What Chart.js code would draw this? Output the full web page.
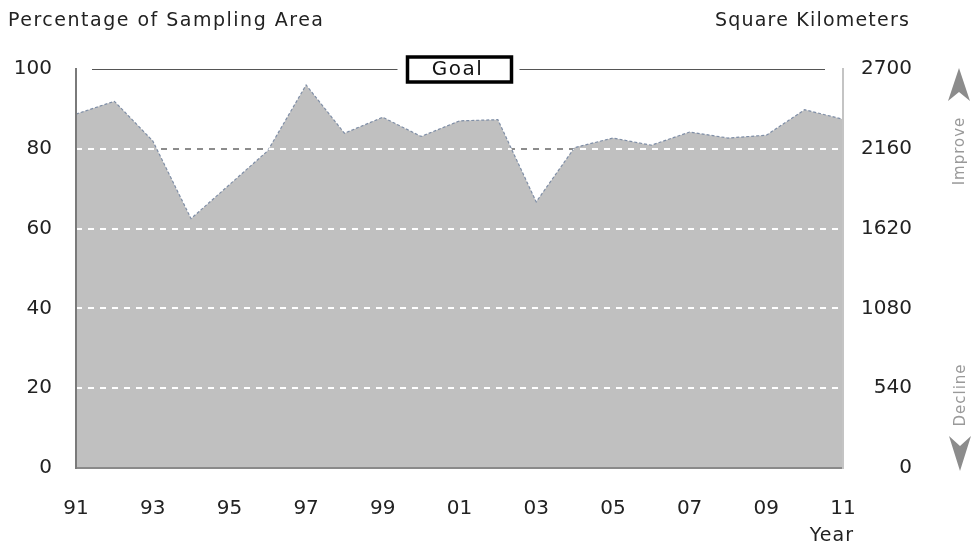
<!DOCTYPE html>
<html>
<head>
<meta charset="utf-8">
<script src="https://cdn.jsdelivr.net/npm/chart.js@4/dist/chart.umd.min.js"></script>
<style>
html,body{margin:0;padding:0;background:#fff;overflow:hidden}
#wrap{position:relative;width:971px;height:546px}
</style>
</head>
<body>
<div id="wrap"><canvas id="c" width="971" height="546"></canvas></div>
<script>
// ---- data ----
const years = [1991,1992,1993,1994,1995,1996,1997,1998,1999,2000,2001,2002,2003,2004,2005,2006,2007,2008,2009,2010,2011];
const percentValues = [88.7,91.9,82.0,62.5,71.0,79.5,96.0,83.9,87.9,83.1,87.0,87.3,66.7,80.3,82.7,80.9,84.2,82.7,83.4,89.8,87.4];
const xTickYears = [1991,1993,1995,1997,1999,2001,2003,2005,2007,2009,2011];
const xTickLabels = ['91','93','95','97','99','01','03','05','07','09','11'];
const leftTicks = [0,20,40,60,80,100];
const rightTicks = [0,540,1080,1620,2160,2700];
const gridValues = [20,40,60,80];
const goalValue = 100;
const leftTitle = 'Percentage of Sampling Area';
const rightTitle = 'Square Kilometers';
const xTitle = 'Year';
const goalLabel = 'Goal';
const improveLabel = 'Improve';
const declineLabel = 'Decline';

const FONT = 'DejaVu Sans';
const points = years.map((y, i) => ({x: y, y: percentValues[i]}));

function drawText(ctx, s, x, y, size, color, align, spacing) {
  ctx.save();
  ctx.font = size + 'px "' + FONT + '"';
  ctx.fillStyle = color;
  ctx.textAlign = align;
  ctx.textBaseline = 'middle';
  ctx.letterSpacing = (spacing || 0) + 'px';
  ctx.fillText(s, x, y);
  ctx.restore();
}

const overlay = {
  id: 'overlay',
  afterDatasetsDraw(chart) {
    const ctx = chart.ctx;
    const area = chart.chartArea;
    const ys = chart.scales.y;
    const meta = chart.getDatasetMeta(0);
    const pts = meta.data;
    // white dashed gridlines over the filled area
    ctx.save();
    ctx.beginPath();
    ctx.moveTo(pts[0].x, ys.getPixelForValue(0));
    pts.forEach(p => ctx.lineTo(p.x, p.y));
    ctx.lineTo(pts[pts.length - 1].x, ys.getPixelForValue(0));
    ctx.closePath();
    ctx.clip();
    ctx.strokeStyle = '#ffffff';
    ctx.lineWidth = 2;
    ctx.setLineDash([6, 6]);
    gridValues.forEach(v => {
      const py = Math.round(ys.getPixelForValue(v));
      ctx.beginPath();
      ctx.moveTo(area.left, py);
      ctx.lineTo(area.right, py);
      ctx.stroke();
    });
    ctx.restore();

    // goal line with boxed label
    const gy = Math.round(ys.getPixelForValue(goalValue)) + 0.5;
    ctx.save();
    ctx.strokeStyle = '#555';
    ctx.lineWidth = 1;
    ctx.beginPath();
    ctx.moveTo(area.left + 16, gy);
    ctx.lineTo(area.right - 18, gy);
    ctx.stroke();
    const cx = (area.left + area.right) / 2;
    ctx.fillStyle = '#fff';
    ctx.fillRect(cx - 62, gy - 16, 122, 32);
    ctx.strokeStyle = '#000';
    ctx.lineWidth = 3.5;
    ctx.strokeRect(cx - 52, gy - 12.5, 104, 25);
    ctx.restore();
    drawText(ctx, goalLabel, cx - 2, gy, 20, '#111', 'center', 1.5);
  },
  afterDraw(chart) {
    const ctx = chart.ctx;
    const area = chart.chartArea;
    drawText(ctx, leftTitle, 8, 21, 19, '#222', 'left', 1.5);
    drawText(ctx, rightTitle, 910, 21, 19, '#222', 'right', 1.2);
    drawText(ctx, xTitle, area.right + 11, 536, 19, '#222', 'right', 1);

    // improve arrow
    ctx.save();
    ctx.fillStyle = '#8c8c8c';
    ctx.beginPath();
    ctx.moveTo(959, 68);
    ctx.lineTo(970, 101);
    ctx.lineTo(959, 92);
    ctx.lineTo(948, 101);
    ctx.closePath();
    ctx.fill();
    // decline arrow
    ctx.beginPath();
    ctx.moveTo(960, 471);
    ctx.lineTo(971, 436);
    ctx.lineTo(960, 446);
    ctx.lineTo(949, 436);
    ctx.closePath();
    ctx.fill();
    ctx.restore();

    ctx.save();
    ctx.translate(960, 151);
    ctx.rotate(-Math.PI / 2);
    drawText(ctx, improveLabel, 0, 0, 15, '#999', 'center', 1);
    ctx.restore();
    ctx.save();
    ctx.translate(961, 395);
    ctx.rotate(-Math.PI / 2);
    drawText(ctx, declineLabel, 0, 0, 15, '#999', 'center', 1);
    ctx.restore();
  }
};

new Chart(document.getElementById('c'), {
  type: 'line',
  data: {
    datasets: [{
      data: points,
      fill: 'origin',
      backgroundColor: '#c0c0c0',
      borderColor: '#7f8ea6',
      borderWidth: 1.2,
      borderDash: [3, 2],
      pointRadius: 0,
      tension: 0
    }]
  },
  options: {
    responsive: false,
    animation: false,
    devicePixelRatio: 1,
    layout: {padding: {top: 69, left: 0, right: 59, bottom: 0}},
    plugins: {legend: {display: false}, tooltip: {enabled: false}},
    scales: {
      x: {
        type: 'linear',
        min: years[0],
        max: years[years.length - 1],
        afterBuildTicks: s => { s.ticks = xTickYears.map(v => ({value: v})); },
        afterFit: s => { s.height = 78; },
        grid: {display: false},
        border: {display: true, color: '#8a8a8a', width: 2, z: 1},
        ticks: {
          autoSkip: false,
          maxRotation: 0,
          padding: 21,
          color: '#222',
          font: {family: FONT, size: 20},
          callback: v => xTickLabels[xTickYears.indexOf(v)]
        }
      },
      y: {
        position: 'left',
        min: 0,
        max: 100,
        afterBuildTicks: s => { s.ticks = leftTicks.map(v => ({value: v})); },
        afterFit: s => { s.width = 76; },
        grid: {
          drawTicks: false,
          lineWidth: 2,
          color: c => gridValues.includes(c.tick.value) ? '#8c8c8c' : 'rgba(0,0,0,0)'
        },
        border: {display: true, color: '#7a7a7a', width: 2, dash: [6, 6], z: 1},
        ticks: {padding: 24, color: '#222', font: {family: FONT, size: 20}, callback: v => String(v)}
      },
      y2: {
        position: 'right',
        min: 0,
        max: 2700,
        afterBuildTicks: s => { s.ticks = rightTicks.map(v => ({value: v})); },
        afterFit: s => { s.width = 69; },
        grid: {display: false, drawTicks: false},
        border: {display: true, color: '#c4c4c4', width: 2, z: 1},
        ticks: {crossAlign: 'far', padding: 14, color: '#222', font: {family: FONT, size: 20}, callback: v => String(v)}
      }
    }
  },
  plugins: [overlay]
});
</script>
</body>
</html>
